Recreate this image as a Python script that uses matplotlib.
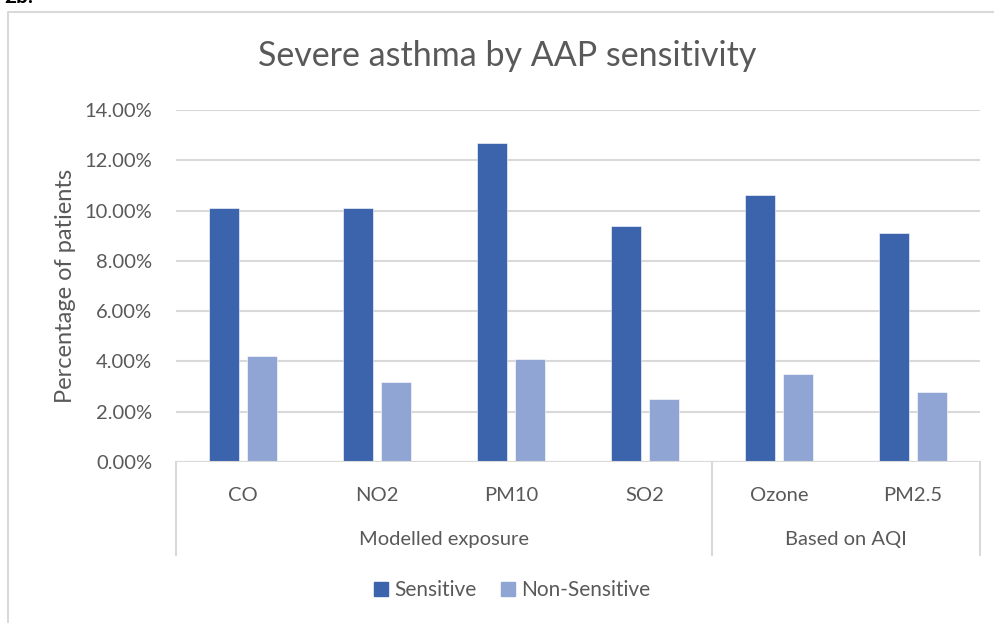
import matplotlib.pyplot as plt
import numpy as np
from matplotlib.patches import Patch
from matplotlib.ticker import FuncFormatter
from matplotlib.lines import Line2D

plt.rcParams.update({"font.family": ["Lato", "DejaVu Sans"], "text.color": "#595959"})

categories = ["CO", "NO2", "PM10", "SO2", "Ozone", "PM2.5"]
groups = ["Modelled exposure", "Based on AQI"]
group_sizes = [4, 2]
sensitive = [10.1, 10.1, 12.7, 9.4, 10.6, 9.1]
non_sensitive = [4.2, 3.2, 4.1, 2.5, 3.5, 2.8]

C_S = "#3C64AD"
C_NS = "#91A5D4"
GRID = "#D9D9D9"
TXT = "#595959"

W, H = 994, 623
fig = plt.figure(figsize=(W / 100, H / 100), dpi=100)

# chart frame (partially visible)
fig.add_artist(Line2D([8 / W, 8 / W, 1], [0, 1 - 12 / H, 1 - 12 / H], color=GRID, lw=1.5))
fig.text(4 / W, 1 - 3 / H, "2b.", fontsize=15, fontweight="bold", color="black",
         va="baseline", ha="left")

left, right, top, bottom = 176, 980, 110, 462
ax = fig.add_axes([left / W, 1 - bottom / H, (right - left) / W, (bottom - top) / H])

x = np.arange(len(categories))
bw = 0.224
off = 0.142
ax.bar(x - off, sensitive, bw, color=C_S, edgecolor="white", linewidth=0.4, zorder=3)
ax.bar(x + off, non_sensitive, bw, color=C_NS, edgecolor="white", linewidth=0.4, zorder=3)

ax.set_xlim(-0.5, len(categories) - 0.5)
ax.set_ylim(0, 14)
ax.set_yticks(np.arange(0, 15, 2))
ax.yaxis.set_major_formatter(FuncFormatter(lambda v, _: f"{v:.2f}%"))
ax.yaxis.grid(True, color=GRID, linewidth=1.5, zorder=0)
for s in ax.spines.values():
    s.set_visible(False)
ax.tick_params(axis="y", length=0, pad=17, labelsize=14.5, labelcolor=TXT)
ax.tick_params(axis="x", length=0, pad=18, labelsize=14.5, labelcolor=TXT)
ax.set_xticks(x)
ax.set_xticklabels(categories)
ax.set_ylabel("Percentage of patients", fontsize=17, color=TXT, labelpad=6)

# category axis lines
ax.axhline(0, color=GRID, linewidth=1.5, zorder=4)
depth = -(555 - bottom) / (bottom - top)
edges = [-0.5] + list(np.cumsum(group_sizes) - 0.5)
tr = ax.get_xaxis_transform()
for e in edges:
    ax.plot([e, e], [0, depth], color=GRID, linewidth=1.5, transform=tr, clip_on=False)
start = -0.5
for g, n in zip(groups, group_sizes):
    ax.text(start + n / 2, -(540 - bottom) / (bottom - top), g, transform=tr, ha="center",
            va="center", fontsize=14.5, color=TXT)
    start += n

fig.text(507 / W, 1 - 56 / H, "Severe asthma by AAP sensitivity",
         ha="center", va="center", fontsize=24.5, color=TXT)

handles = [Patch(color=C_S, label="Sensitive"), Patch(color=C_NS, label="Non-Sensitive")]
fig.legend(handles=handles, loc="center", bbox_to_anchor=(512 / W, 1 - 590 / H), ncol=2,
           frameon=False, fontsize=15, handlelength=0.65, handleheight=0.65,
           handletextpad=0.3, columnspacing=1.2, labelcolor=TXT)

fig.savefig("out.png", dpi=100)
